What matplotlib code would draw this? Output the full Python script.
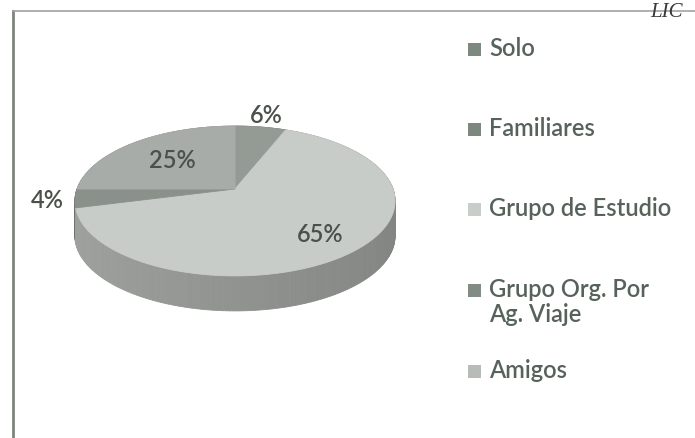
import numpy as np
import matplotlib.pyplot as plt
from matplotlib.patches import Polygon, Rectangle
from matplotlib.colors import to_rgb

plt.rcParams['font.family'] = ['Lato', 'DejaVu Sans']

# data
categories = ["Solo", "Familiares", "Grupo de Estudio", "Grupo Org. Por\nAg. Viaje", "Amigos"]
shares = [0, 6, 65, 4, 25]

top_colors = ["#7f8a80", "#949b94", "#c8ccc8", "#8a918a", "#a8aca8"]
legend_colors = ["#7d887e", "#7d877e", "#c9cdc9", "#838c84", "#b8bcb8"]
label_radius = [1.0, 1.25, 0.74, 1.17, 0.6]
legend_y = [50, 130, 210, 291, 372]

# pie geometry in pixels (perspective tilt)
CX, CY = 235, 190
RX, RY, K = 158, 73, 0.16
DEPTH = 35
START = 90

def project(theta, r=1.0):
    u = r * np.cos(theta)
    v = r * np.sin(theta)
    d = 1 + K * v
    return CX + RX * u / d, CY - RY * v / d

def shade(color, f):
    return tuple(min(1, max(0, c * f)) for c in to_rgb(color))

fig = plt.figure(figsize=(6.95, 4.39), dpi=100)
ax = fig.add_axes([0, 0, 1, 1])
ax.set_xlim(0, 695)
ax.set_ylim(439, 0)
ax.axis('off')

total = float(sum(shares))
bounds = []
a = np.deg2rad(START)
for s in shares:
    b = a - 2 * np.pi * s / total
    bounds.append((a, b))
    a = b

# sides: small quads, back to front
segs = []
for (a, b), col in zip(bounds, top_colors):
    if a == b:
        continue
    n = max(2, int(abs(np.rad2deg(a - b))))
    th = np.linspace(a, b, n + 1)
    for t0, t1 in zip(th[:-1], th[1:]):
        segs.append((np.sin((t0 + t1) / 2), t0, t1, col))
segs.sort(key=lambda x: -x[0])
for v, t0, t1, col in segs:
    x0, y0 = project(t0)
    x1, y1 = project(t1)
    tm = (t0 + t1) / 2
    f = 0.72 - 0.07 * np.cos(tm)
    c = shade(col, f)
    ax.add_patch(Polygon([(x0, y0), (x1, y1), (x1, y1 + DEPTH), (x0, y0 + DEPTH)],
                         closed=True, facecolor=c, edgecolor=c, lw=0.6))

# tops
for (a, b), col in zip(bounds, top_colors):
    if a == b:
        continue
    th = np.linspace(a, b, 200)
    xs, ys = project(th)
    pts = [(CX, CY)] + list(zip(xs, ys))
    ax.add_patch(Polygon(pts, closed=True, facecolor=col, edgecolor=col, lw=0.6))

# percentage labels
for (a, b), s, r in zip(bounds, shares, label_radius):
    if s == 0:
        continue
    x, y = project((a + b) / 2, r)
    ax.text(x, y, f"{s:.0f}%", ha='center', va='center', fontsize=17,
            fontweight='semibold', color="#4a504a")

# legend
for cat, col, y in zip(categories, legend_colors, legend_y):
    ax.add_patch(Rectangle((468, y - 6), 13, 13, facecolor=col, edgecolor='none'))
    ax.text(489, y - 13, cat, ha='left', va='top', fontsize=17, color="#56625a",
            fontweight='semibold', linespacing=1.1)

# chart border and page remnants
ax.plot([13, 13], [439, 12], color="#7f847f", lw=2)
ax.plot([13, 695], [12, 12], color="#a0a3a0", lw=1.2)
ax.text(667, 17, "LIC", ha='center', va='baseline', fontsize=15,
        family='Liberation Serif', style='italic', color="#3a3a3a")

plt.savefig('out.png', dpi=100)
